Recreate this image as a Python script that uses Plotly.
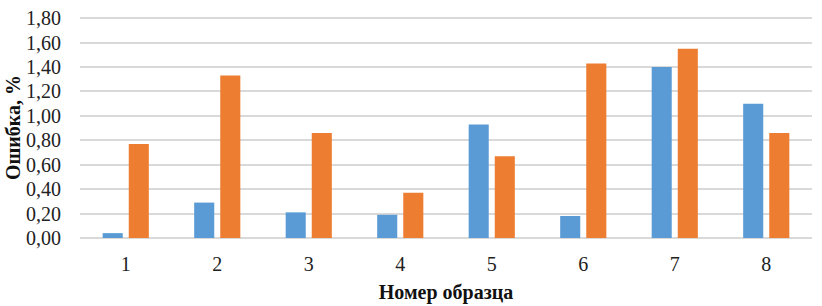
import plotly.graph_objects as go

categories = ["1", "2", "3", "4", "5", "6", "7", "8"]
series_blue = [0.04, 0.29, 0.21, 0.19, 0.93, 0.18, 1.40, 1.10]
series_orange = [0.77, 1.33, 0.86, 0.37, 0.67, 1.43, 1.55, 0.86]
y_ticks = [0.0, 0.2, 0.4, 0.6, 0.8, 1.0, 1.2, 1.4, 1.6, 1.8]

font_family = "Liberation Serif, Times New Roman, serif"

fig = go.Figure()
fig.add_trace(go.Bar(x=categories, y=series_blue, marker_color="#5B9BD5",
                     marker_line_width=0, name="1"))
fig.add_trace(go.Bar(x=categories, y=series_orange, marker_color="#ED7D31",
                     marker_line_width=0, name="2"))

fig.update_layout(
    width=822, height=306,
    margin=dict(l=80, r=10, t=7, b=67),
    paper_bgcolor="white", plot_bgcolor="white",
    barmode="group", bargap=0.43, bargroupgap=0.23,
    showlegend=False,
    separators=", ",
    font=dict(family=font_family, size=20, color="#222222"),
)
fig.update_yaxes(
    range=[0, 1.81], tickvals=y_ticks, tickformat=".2f",
    showgrid=True, gridcolor="#D9D9D9", gridwidth=1.5,
    zeroline=True, zerolinecolor="#D9D9D9", zerolinewidth=1.5,
    showline=False, ticks="", ticklabelstandoff=18,
    ticklabeloverflow="allow",
    tickfont=dict(size=20, family=font_family, color="#222222"),
    title=dict(text="<b>Ошибка, %</b>", standoff=0,
               font=dict(size=20, family=font_family, color="#111111")),
)
fig.update_xaxes(
    showgrid=False, showline=False, ticks="", ticklabelstandoff=12,
    tickfont=dict(size=20, family=font_family, color="#222222"),
    title=dict(text="<b>Номер образца</b>", standoff=10,
               font=dict(size=20, family=font_family, color="#111111")),
)

fig.write_html("out.html",
               config={"displayModeBar": False},
               post_script="document.body.style.margin='0';document.body.style.overflow='hidden';")
